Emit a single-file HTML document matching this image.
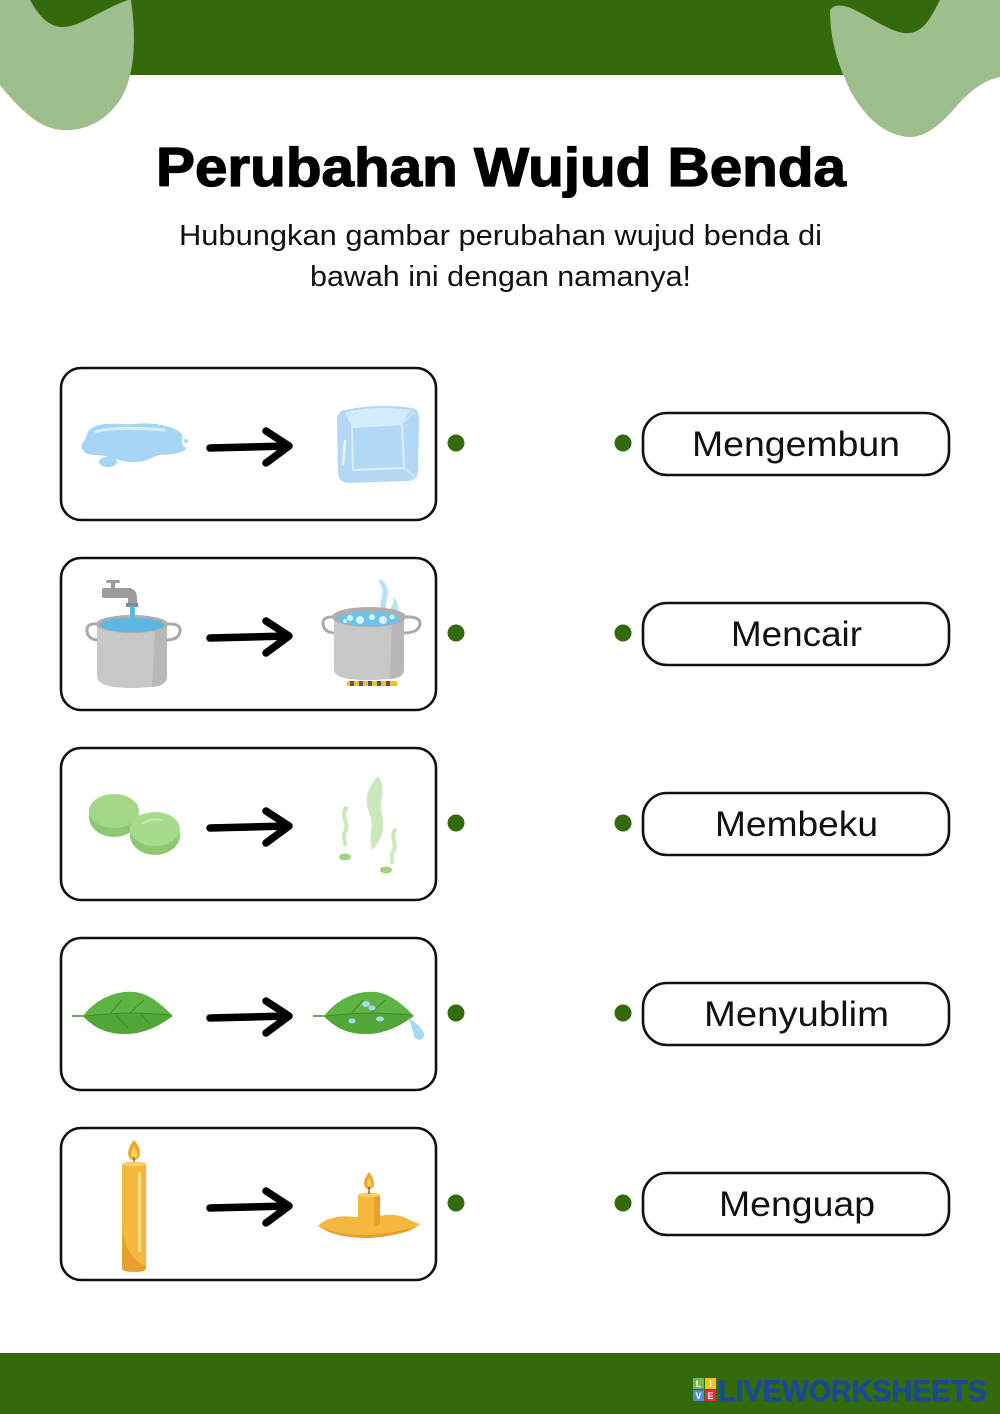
<!DOCTYPE html>
<html><head><meta charset="utf-8"><style>
html,body{margin:0;padding:0;background:#fff;}
svg{display:block;}
</style></head><body>
<svg width="1000" height="1414" viewBox="0 0 1000 1414" xmlns="http://www.w3.org/2000/svg">
<rect width="1000" height="1414" fill="#fff"/>
<!-- top band -->
<rect x="0" y="0" width="1000" height="75" fill="#336a0b"/>
<path d="M0,0 L30,0 C40,18 50,27 63,27 C80,27 100,10 128,0 L131,0 C136,35 136,75 120,100 C105,122 85,131 62,130 C40,129 20,110 0,85 Z" fill="#9fbe8d"/>
<path d="M830,10 C835,3 845,5 855,10 C875,20 895,35 910,33 C925,31 932,15 940,0 L1000,0 L1000,77 C985,80 970,90 955,108 C940,125 925,138 908,137 C885,135 865,118 850,90 C838,65 830,40 830,10 Z" fill="#9fbe8d"/>
<!-- bottom band -->
<rect x="0" y="1353" width="1000" height="61" fill="#336a0b"/>
<!-- logo -->
<rect x="693" y="1378" width="11" height="11" fill="#7ab648"/>
<rect x="705" y="1378" width="11" height="11" fill="#f7c21c"/>
<rect x="693" y="1390" width="11" height="11" fill="#4d8fd6"/>
<rect x="705" y="1390" width="11" height="11" fill="#e32b3c"/>
<g font-family="Liberation Sans, sans-serif" font-weight="bold" font-size="9" fill="#fff" text-anchor="middle">
<text x="698.5" y="1387">L</text><text x="710.5" y="1387">I</text><text x="698.5" y="1399">V</text><text x="710.5" y="1399">E</text>
</g>
<text x="718" y="1401" font-family="Liberation Sans, sans-serif" font-weight="bold" font-size="30" fill="#1b4a94" stroke="#1b4a94" stroke-width="0.7" textLength="269" lengthAdjust="spacingAndGlyphs">LIVEWORKSHEETS</text>

<!-- title -->
<text x="156" y="186" font-family="Liberation Sans, sans-serif" font-weight="bold" font-size="55" fill="#000" stroke="#000" stroke-width="1.3" stroke-linejoin="round" textLength="690" lengthAdjust="spacingAndGlyphs">Perubahan Wujud Benda</text>
<text x="179" y="245" font-family="Liberation Sans, sans-serif" font-size="29" fill="#111" textLength="643" lengthAdjust="spacingAndGlyphs">Hubungkan gambar perubahan wujud benda di</text>
<text x="310" y="286" font-family="Liberation Sans, sans-serif" font-size="29" fill="#111" textLength="381" lengthAdjust="spacingAndGlyphs">bawah ini dengan namanya!</text>

<!-- left boxes -->
<g fill="none" stroke="#111" stroke-width="2.6">
<rect x="61" y="368" width="375" height="152" rx="20"/>
<rect x="61" y="558" width="375" height="152" rx="20"/>
<rect x="61" y="748" width="375" height="152" rx="20"/>
<rect x="61" y="938" width="375" height="152" rx="20"/>
<rect x="61" y="1128" width="375" height="152" rx="20"/>
</g>
<!-- right boxes -->
<g fill="none" stroke="#111" stroke-width="2.6">
<rect x="643" y="413" width="306" height="62" rx="24"/>
<rect x="643" y="603" width="306" height="62" rx="24"/>
<rect x="643" y="793" width="306" height="62" rx="24"/>
<rect x="643" y="983" width="306" height="62" rx="24"/>
<rect x="643" y="1173" width="306" height="62" rx="24"/>
</g>
<g font-family="Liberation Sans, sans-serif" font-size="35" fill="#111">
<text x="692" y="456" textLength="208" lengthAdjust="spacingAndGlyphs">Mengembun</text>
<text x="731" y="646" textLength="131" lengthAdjust="spacingAndGlyphs">Mencair</text>
<text x="715" y="836" textLength="163" lengthAdjust="spacingAndGlyphs">Membeku</text>
<text x="704" y="1026" textLength="185" lengthAdjust="spacingAndGlyphs">Menyublim</text>
<text x="719" y="1216" textLength="156" lengthAdjust="spacingAndGlyphs">Menguap</text>
</g>
<!-- dots -->
<g fill="#336a0b">
<circle cx="456" cy="443" r="8.5"/><circle cx="623" cy="443" r="8.5"/>
<circle cx="456" cy="633" r="8.5"/><circle cx="623" cy="633" r="8.5"/>
<circle cx="456" cy="823" r="8.5"/><circle cx="623" cy="823" r="8.5"/>
<circle cx="456" cy="1013" r="8.5"/><circle cx="623" cy="1013" r="8.5"/>
<circle cx="456" cy="1203" r="8.5"/><circle cx="623" cy="1203" r="8.5"/>
</g>
<!-- arrows -->
<g fill="none" stroke="#000" stroke-width="7.5" stroke-linecap="round" stroke-linejoin="round">
<path d="M210,448 L287,446 M266,431 L289,446 L266,463"/>
<path d="M210,638 L287,636 M266,621 L289,636 L266,653"/>
<path d="M210,828 L287,826 M266,811 L289,826 L266,843"/>
<path d="M210,1018 L287,1016 M266,1001 L289,1016 L266,1033"/>
<path d="M210,1208 L287,1206 M266,1191 L289,1206 L266,1223"/>
</g>

<!-- Row 1: puddle -->
<path d="M88,432 C95,420 120,425 135,424 C150,422 170,425 180,432 C186,438 178,444 185,447 C190,452 170,455 160,455 C150,457 148,462 135,462 C120,463 110,455 95,455 C82,455 78,446 85,440 Z" fill="#a6d6f4"/>
<path d="M95,432 C110,427 140,428 165,430" stroke="#d6eefc" stroke-width="3" fill="none"/>
<ellipse cx="108" cy="462" rx="9" ry="5" fill="#a6d6f4"/>
<circle cx="186" cy="441" r="2" fill="#a6d6f4"/><circle cx="181" cy="444" r="1.5" fill="#a6d6f4"/>
<!-- ice cube -->
<path d="M345,410 Q378,403 412,408 Q420,410 419,420 L418,470 Q418,480 408,481 L350,483 Q338,483 338,472 L337,420 Q337,411 345,410 Z" fill="#b3d8f5"/>
<path d="M345,412 Q378,405 410,410 L402,424 L352,427 Z" fill="#d4ebfc"/>
<path d="M352,427 L353,470 M352,427 L402,424 L404,468 M353,470 L404,468" stroke="#d9eefc" stroke-width="2" fill="none"/>
<path d="M404,468 L416,478 M402,424 L414,412" stroke="#c8e4fa" stroke-width="2" fill="none"/>
<path d="M345,440 L343,465" stroke="#e8f5ff" stroke-width="2.5" fill="none"/>

<!-- Row 2: left pot with tap -->
<rect x="102" y="588" width="30" height="10" rx="2" fill="#9c9c9c"/>
<path d="M127,588 Q137,588 137,598 L137,606 L128,606 L128,598 Z" fill="#9c9c9c"/>
<rect x="126" y="603" width="12" height="4" fill="#7f8a8f"/>
<rect x="106" y="580" width="14" height="3" rx="1.5" fill="#9c9c9c"/>
<rect x="111" y="581" width="4" height="8" fill="#9c9c9c"/>
<path d="M98,624 Q86,623 87,631 Q88,640 99,640" fill="none" stroke="#aaa" stroke-width="3"/>
<path d="M166,624 Q181,623 180,631 Q179,640 166,640" fill="none" stroke="#aaa" stroke-width="3"/>
<path d="M97,624 L167,624 L167,676 Q167,688 132,688 Q97,688 97,676 Z" fill="#c8c8c8"/>
<path d="M155,626 L167,624 L167,676 Q167,686 152,687 Z" fill="#b8b8b8"/>
<ellipse cx="132" cy="624" rx="36" ry="9" fill="#aeaeae"/>
<ellipse cx="132" cy="625" rx="32" ry="7" fill="#5db7e5"/>
<rect x="130" y="606" width="5" height="19" fill="#5db7e5"/>
<!-- right pot boiling -->
<path d="M382,612 C376,600 388,594 380,584 C376,578 384,578 386,586 C392,596 382,602 388,612 Z" fill="#b8e2f4"/>
<path d="M392,614 C388,606 396,604 393,597 C397,600 400,606 397,614 Z" fill="#b8e2f4"/>
<path d="M335,617 Q322,616 323,624 Q324,633 336,633" fill="none" stroke="#aaa" stroke-width="3"/>
<path d="M403,617 Q421,616 420,624 Q419,633 403,633" fill="none" stroke="#aaa" stroke-width="3"/>
<path d="M334,617 L404,617 L404,670 Q404,680 369,680 Q334,680 334,670 Z" fill="#c8c8c8"/>
<path d="M392,619 L404,617 L404,670 Q404,678 390,679 Z" fill="#b8b8b8"/>
<ellipse cx="369" cy="617" rx="37" ry="10" fill="#aeaeae"/>
<ellipse cx="369" cy="619" rx="32" ry="7" fill="#6cc3ec"/>
<g fill="#d8f1fd"><circle cx="350" cy="618" r="3"/><circle cx="360" cy="620" r="4"/><circle cx="372" cy="617" r="3"/><circle cx="383" cy="620" r="4"/><circle cx="392" cy="617" r="2.5"/><circle cx="345" cy="621" r="2"/></g>
<rect x="347" y="681" width="50" height="5" fill="#f0c419"/>
<g fill="#555"><rect x="350" y="681" width="4" height="5"/><rect x="359" y="681" width="4" height="5"/><rect x="368" y="681" width="4" height="5"/><rect x="377" y="681" width="4" height="5"/><rect x="386" y="681" width="4" height="5"/></g>

<!-- Row 3: tablets -->
<ellipse cx="114" cy="817" rx="25" ry="20" fill="#8ec970"/>
<ellipse cx="114" cy="811" rx="25" ry="17" fill="#a3d889"/>
<ellipse cx="155" cy="835" rx="25" ry="20" fill="#8ec970"/>
<ellipse cx="155" cy="829" rx="25" ry="17" fill="#a6da8c"/>
<path d="M142,824 Q150,818 162,820" stroke="#c4e8b0" stroke-width="2" fill="none"/>
<!-- smoke -->
<path d="M378,776 C366,790 364,800 370,815 C374,826 368,838 372,850 C380,842 386,830 382,815 C378,800 388,790 378,776 Z" fill="#cbe7bc"/>
<g fill="none" stroke="#cbe7bc" stroke-linecap="round">
<path d="M346,808 C340,816 350,824 345,832 C342,838 346,842 345,844" stroke-width="4"/>
<path d="M395,830 C390,838 398,845 393,852 C390,857 393,860 392,862" stroke-width="4"/>
</g>
<ellipse cx="345" cy="857" rx="6" ry="3.5" fill="#9ed680"/>
<ellipse cx="386" cy="870" rx="6" ry="3.5" fill="#9ed680"/>

<!-- Row 4: leaves -->
<path d="M72,1016 L85,1016" stroke="#3f8a2a" stroke-width="1.5"/>
<path d="M83,1016 C95,1000 115,990 135,992 C150,994 162,1005 173,1016 C160,1025 145,1034 125,1034 C105,1034 92,1026 83,1016 Z" fill="#5eb443"/>
<path d="M83,1016 C110,1014 140,1012 173,1016 C160,1025 145,1034 125,1034 C105,1034 92,1026 83,1016 Z" fill="#52a638"/>
<path d="M85,1016 C110,1013 140,1012 170,1015 M110,1014 L122,1000 M130,1013 L144,1000 M115,1014 L128,1028 M140,1013 L150,1024" stroke="#3f8a2a" stroke-width="1" fill="none"/>
<path d="M313,1016 L326,1016" stroke="#3f8a2a" stroke-width="1.5"/>
<path d="M324,1016 C336,1000 356,990 376,992 C391,994 403,1005 414,1016 C401,1025 386,1034 366,1034 C346,1034 333,1026 324,1016 Z" fill="#5eb443"/>
<path d="M324,1016 C351,1014 381,1012 414,1016 C401,1025 386,1034 366,1034 C346,1034 333,1026 324,1016 Z" fill="#52a638"/>
<path d="M326,1016 C351,1013 381,1012 411,1015 M351,1014 L363,1000 M371,1013 L385,1000" stroke="#3f8a2a" stroke-width="1" fill="none"/>
<g fill="#a6d9f2">
<ellipse cx="366" cy="1004" rx="4" ry="3"/><ellipse cx="372" cy="1008" rx="3.5" ry="2.5"/>
<ellipse cx="352" cy="1021" rx="3.5" ry="2.5"/><ellipse cx="380" cy="1019" rx="4" ry="2.5"/>
<path d="M408,1018 C416,1022 425,1030 424,1036 C423,1041 416,1041 414,1036 C413,1030 411,1024 408,1018 Z"/>
</g>

<!-- Row 5: candle -->
<path d="M134,1140 C128,1147 127,1154 129,1157 C131,1161 137,1161 139,1157 C141,1153 140,1147 134,1140 Z" fill="#f2a531"/>
<path d="M134,1147 C131,1151 131,1155 132,1157 C134,1159 136,1159 137,1157 C138,1154 137,1151 134,1147 Z" fill="#fcd25c"/>
<line x1="134" y1="1157" x2="134" y2="1165" stroke="#6b4a1a" stroke-width="1.2"/>
<path d="M122,1164 L146,1164 L146,1268 Q146,1272 134,1272 Q122,1272 122,1268 Z" fill="#f5b83e"/>
<path d="M122,1230 C126,1250 134,1262 146,1266 L146,1268 Q146,1272 134,1272 Q122,1272 122,1268 Z" fill="#e9a02f"/>
<rect x="138" y="1172" width="3" height="80" rx="1.5" fill="#ffe08a"/>
<ellipse cx="134" cy="1164" rx="12" ry="2.5" fill="#f9cd6a"/>
<!-- melted candle -->
<path d="M318,1226 C325,1218 340,1215 355,1217 C370,1219 380,1214 395,1215 C405,1216 412,1222 420,1224 C414,1230 405,1233 395,1234 C380,1236 370,1238 355,1237 C340,1236 328,1233 318,1226 Z" fill="#f5b83e"/>
<path d="M322,1228 C335,1233 350,1235 365,1235 C385,1234 400,1232 416,1226 C408,1232 395,1236 370,1238 C345,1238 330,1234 322,1228 Z" fill="#e69d2c"/>
<path d="M358,1195 L380,1195 L380,1224 Q369,1229 358,1224 Z" fill="#f5b83e"/>
<path d="M374,1196 L380,1195 L380,1224 Q377,1226 374,1226 Z" fill="#e9a02f"/>
<ellipse cx="369" cy="1195" rx="11" ry="2.5" fill="#f9cd6a"/>
<path d="M369,1172 C364,1178 363,1184 365,1187 C367,1190 371,1190 373,1187 C375,1184 374,1178 369,1172 Z" fill="#f2a531"/>
<path d="M369,1178 C367,1181 367,1184 368,1186 C369,1187 370,1187 371,1186 C372,1184 371,1181 369,1178 Z" fill="#fcd25c"/>
<line x1="369" y1="1187" x2="369" y2="1194" stroke="#6b4a1a" stroke-width="1.2"/>
</svg>
</body></html>
